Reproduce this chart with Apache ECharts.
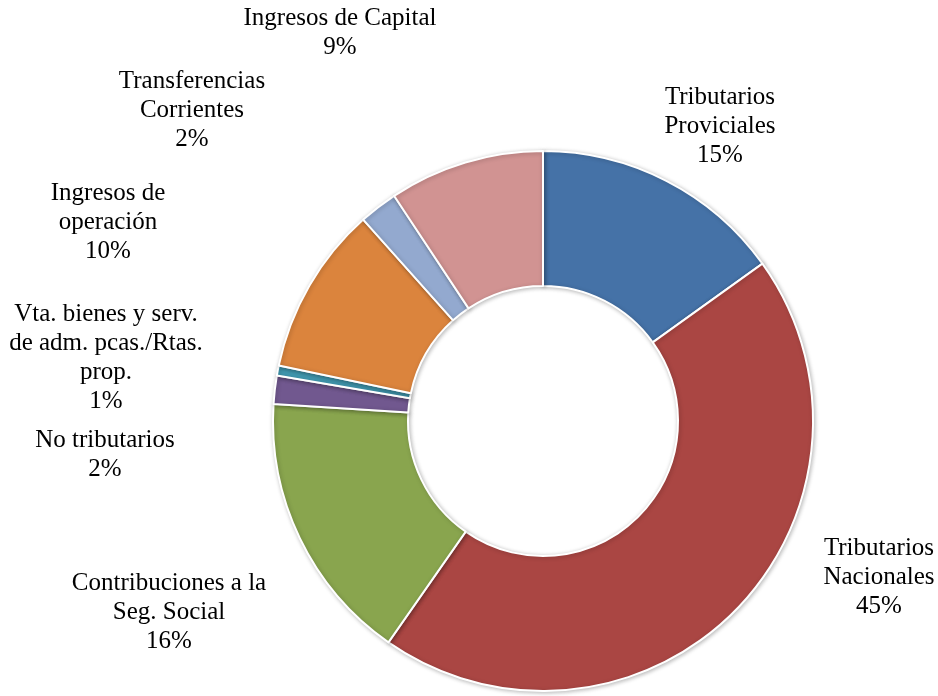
<!DOCTYPE html>
<html>
<head>
<meta charset="utf-8">
<script src="https://cdn.jsdelivr.net/npm/echarts@6/dist/echarts.min.js"></script>
<style>html,body{margin:0;padding:0;background:#fff;}#c{width:938px;height:696px;}</style>
</head>
<body>
<div id="c"></div>
<script>
const categories = [
  'Tributarios\nProviciales',
  'Tributarios\nNacionales',
  'Contribuciones a la\nSeg. Social',
  'No tributarios',
  'Vta. bienes y serv.\nde adm. pcas./Rtas.\nprop.',
  'Ingresos de\noperación',
  'Transferencias\nCorrientes',
  'Ingresos de Capital'
];
const values = [15.1, 44.6, 16.3, 1.7, 0.6, 10.1, 2.3, 9.3];
const colors = ['#4572A7', '#AA4643', '#89A54E', '#71588F', '#4198AF', '#DB843D', '#93A9CF', '#D19392'];

// label anchor centres (layout only)
const labelAnchors = [
  [720, 126], [879, 577], [169, 612], [105, 455],
  [106, 358], [108, 222], [192, 110], [340, 33]
];

const chart = echarts.init(document.getElementById('c'), null, {renderer: 'canvas'});
chart.setOption({
  animation: false,
  backgroundColor: '#ffffff',
  series: [{
    type: 'pie',
    center: [543, 421],
    radius: [135, 270],
    startAngle: 90,
    clockwise: true,
    percentPrecision: 0,
    avoidLabelOverlap: false,
    data: categories.map((n, i) => ({name: n, value: values[i], itemStyle: {color: colors[i]}})),
    itemStyle: {
      borderColor: '#ffffff',
      borderWidth: 2,
      shadowBlur: 4,
      shadowOffsetX: 1,
      shadowOffsetY: 1,
      shadowColor: 'rgba(0,0,0,0.25)'
    },
    label: {
      show: true,
      position: 'outside',
      formatter: '{b}\n{d}%',
      fontFamily: '"Liberation Serif", "Times New Roman", serif',
      fontSize: 25,
      lineHeight: 29,
      color: '#000000',
      align: 'center'
    },
    labelLine: {show: false},
    labelLayout: function (p) {
      const a = labelAnchors[p.dataIndex];
      return {x: a[0], y: a[1], align: 'center', verticalAlign: 'middle'};
    },
    emphasis: {disabled: true}
  }]
});
</script>
</body>
</html>
